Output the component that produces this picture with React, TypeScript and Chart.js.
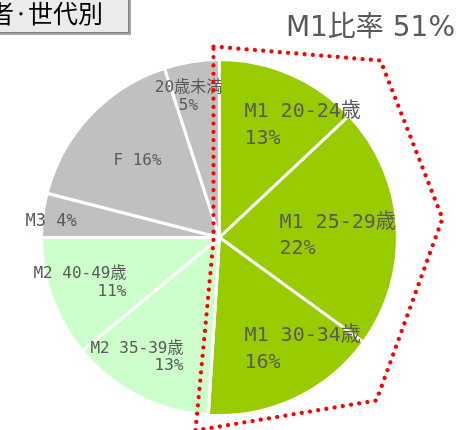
import React, { useEffect, useRef } from "react";
import { Chart, registerables } from "chart.js";

Chart.register(...registerables);

// ---- data ----
const categories = [
  "M1 20-24歳",
  "M1 25-29歳",
  "M1 30-34歳",
  "M2 35-39歳",
  "M2 40-49歳",
  "M3",
  "F",
  "20歳未満",
];
const shares = [13, 22, 16, 13, 11, 4, 16, 5];
const sliceColors = [
  "#99cc00",
  "#99cc00",
  "#99cc00",
  "#ccffcc",
  "#ccffcc",
  "#c0c0c0",
  "#c0c0c0",
  "#c0c0c0",
];
const titleText = "購入者·世代別";
const highlightText = "M1比率 51%";

// ---- layout (offsets relative to the pie centre) ----
type LabelLayout = { dx: number; dy: number; align: CanvasTextAlign; size: number; lh: number; inline: boolean };
const labelLayout: LabelLayout[] = [
  { dx: 25, dy: -121, align: "left", size: 20, lh: 27, inline: false },
  { dx: 60, dy: -10, align: "left", size: 20, lh: 26, inline: false },
  { dx: 25, dy: 103, align: "left", size: 20, lh: 27, inline: false },
  { dx: -36, dy: 115, align: "right", size: 16, lh: 17, inline: false },
  { dx: -93, dy: 40, align: "right", size: 16, lh: 18, inline: false },
  { dx: -194, dy: -12, align: "left", size: 17, lh: 0, inline: true },
  { dx: -82, dy: -73, align: "center", size: 16, lh: 0, inline: true },
  { dx: -31, dy: -146, align: "center", size: 16, lh: 18, inline: false },
];
// hexagon outline around the M1 slices, relative to pie centre
const hexOffsets: [number, number][] = [
  [-6, -191],
  [161, -177],
  [223, -19],
  [157, 163],
  [-24, 193],
  [-6, 3],
];

const LABEL_FONT = '"DejaVu Sans Mono", "Noto Sans CJK JP", monospace';

const overlayPlugin = {
  id: "overlay",
  afterDatasetsDraw(chart: any) {
    const ctx: CanvasRenderingContext2D = chart.ctx;
    const meta = chart.getDatasetMeta(0);
    const arc0 = meta.data[0];
    if (!arc0) return;
    const cx = arc0.x;
    const cy = arc0.y;

    // labels
    ctx.save();
    ctx.fillStyle = "#5a5a5a";
    ctx.textBaseline = "alphabetic";
    categories.forEach((cat, i) => {
      const L = labelLayout[i];
      ctx.font = `${L.size}px ${LABEL_FONT}`;
      ctx.textAlign = L.align;
      const pct = `${shares[i]}%`;
      if (L.inline) {
        ctx.fillText(`${cat} ${pct}`, cx + L.dx, cy + L.dy);
      } else {
        ctx.fillText(cat, cx + L.dx, cy + L.dy);
        ctx.fillText(pct, cx + L.dx, cy + L.dy + L.lh);
      }
    });
    ctx.restore();

    // red dotted hexagon
    ctx.save();
    ctx.strokeStyle = "#ff0000";
    ctx.lineWidth = 4.2;
    ctx.lineCap = "round";
    ctx.setLineDash([0.01, 8.3]);
    ctx.beginPath();
    hexOffsets.forEach(([dx, dy], i) => {
      if (i === 0) ctx.moveTo(cx + dx, cy + dy);
      else ctx.lineTo(cx + dx, cy + dy);
    });
    ctx.closePath();
    ctx.stroke();
    ctx.restore();

    // title box (top-left, partly clipped)
    ctx.save();
    ctx.fillStyle = "#a6a6a6";
    ctx.fillRect(-10, -10, 141, 45);
    ctx.fillStyle = "#ebebeb";
    ctx.fillRect(-10, -10, 138.5, 42.5);
    ctx.strokeStyle = "#7f7f7f";
    ctx.lineWidth = 1;
    ctx.strokeRect(-10, -10, 138.5, 42.5);
    ctx.fillStyle = "#000000";
    ctx.font = '25px "Noto Sans CJK JP", sans-serif';
    ctx.textAlign = "right";
    ctx.textBaseline = "alphabetic";
    ctx.fillText(titleText, 103, 23);
    ctx.restore();

    // highlight caption
    ctx.save();
    ctx.fillStyle = "#595959";
    ctx.font = '28px "DejaVu Sans", "Noto Sans CJK JP", sans-serif';
    ctx.textAlign = "right";
    ctx.textBaseline = "alphabetic";
    ctx.fillText(highlightText, 455, 36);
    ctx.restore();
  },
};

export default function App() {
  const canvasRef = useRef<HTMLCanvasElement | null>(null);

  useEffect(() => {
    const canvas = canvasRef.current;
    if (!canvas) return;
    const chart = new Chart(canvas, {
      type: "pie",
      data: {
        labels: categories,
        datasets: [
          {
            data: shares,
            backgroundColor: sliceColors,
            borderColor: "#ffffff",
            borderWidth: 3,
          },
        ],
      },
      options: {
        responsive: false,
        animation: false,
        devicePixelRatio: 1,
        layout: { padding: { top: 58, bottom: 13, left: 40, right: 60 } },
        plugins: {
          legend: { display: false },
          tooltip: { enabled: false },
          title: { display: false },
        },
      },
      plugins: [overlayPlugin],
    });
    return () => chart.destroy();
  }, []);

  return (
    <div style={{ position: "fixed", left: 0, top: 0, width: 459, height: 430, background: "#ffffff" }}>
      <canvas ref={canvasRef} width={459} height={430} style={{ width: 459, height: 430, display: "block" }} />
    </div>
  );
}
